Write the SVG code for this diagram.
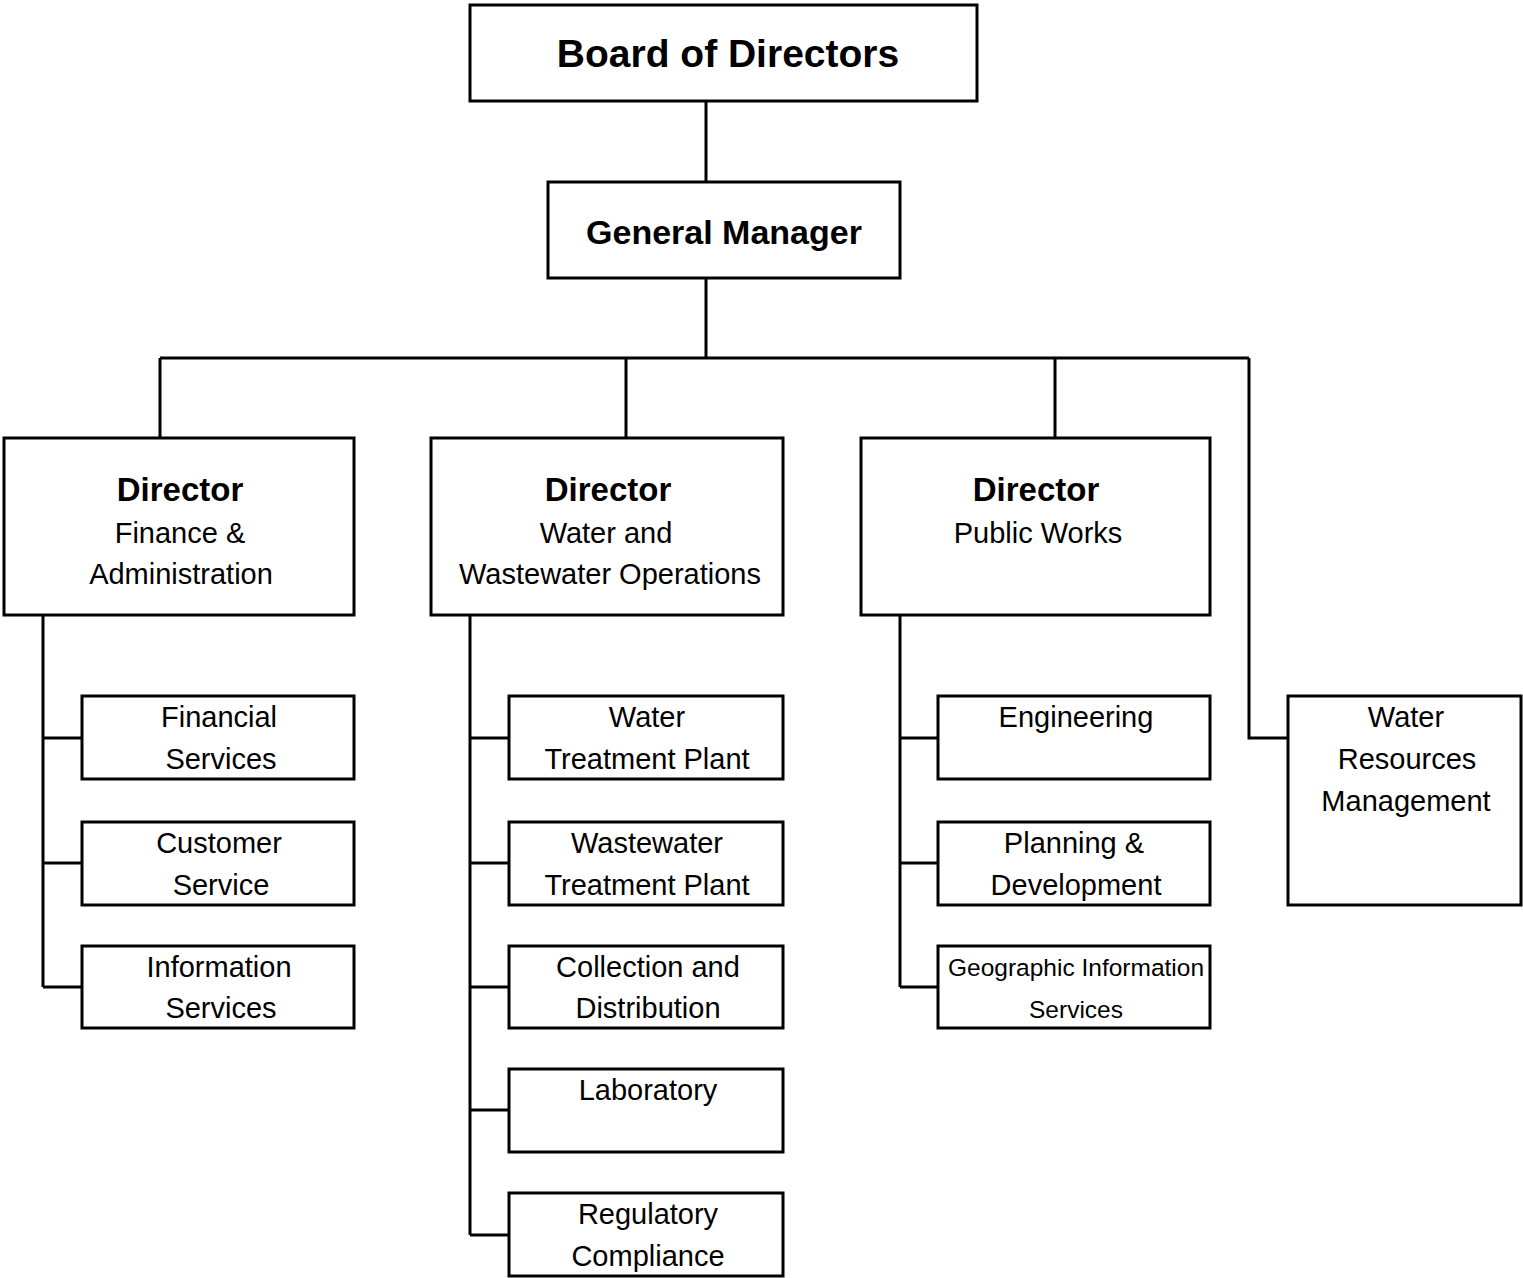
<svg xmlns="http://www.w3.org/2000/svg" width="1523" height="1278" viewBox="0 0 1523 1278">
<style>
.box{fill:#fff;stroke:#000;stroke-width:3}
.ln{fill:none;stroke:#000;stroke-width:3}
text{font-family:"Liberation Sans",Arial,sans-serif;fill:#000;text-anchor:middle}
.t1{font-size:39px;font-weight:bold}
.t2{font-size:34px;font-weight:bold}
.hd{font-size:33px;font-weight:bold}
.tx{font-size:29px}
.sm{font-size:24.5px}
</style>
<rect width="1523" height="1278" fill="#fff"/>
<g id="connectors">
<path class="ln" d="M706 101V182M706 278V358M160 358H1249M160 358V438M626 358V438M1055 358V438M1249 358V738H1288"/>
<path class="ln" d="M43 615V987M43 738H82M43 863H82M43 987H82"/>
<path class="ln" d="M470 615V1235M470 738H509M470 863H509M470 987H509M470 1110H509M470 1235H509"/>
<path class="ln" d="M900 615V987M900 738H938M900 863H938M900 987H938"/>
</g>
<g id="board"><rect class="box" x="470" y="5" width="507" height="96"/><text class="t1" x="728" y="67">Board of Directors</text></g>
<g id="gm"><rect class="box" x="548" y="182" width="352" height="96"/><text class="t2" x="724" y="244">General Manager</text></g>
<g id="dir-fin"><rect class="box" x="4" y="438" width="350" height="177"/><text class="hd" x="180" y="501">Director</text><text class="tx" x="180" y="543">Finance &amp;</text><text class="tx" x="181" y="584">Administration</text></g>
<g id="dir-water"><rect class="box" x="431" y="438" width="352" height="177"/><text class="hd" x="608" y="501">Director</text><text class="tx" x="606" y="543">Water and</text><text class="tx" x="610" y="584">Wastewater Operations</text></g>
<g id="dir-pw"><rect class="box" x="861" y="438" width="349" height="177"/><text class="hd" x="1036" y="501">Director</text><text class="tx" x="1038" y="543">Public Works</text></g>
<g id="fin-svc"><rect class="box" x="82" y="696" width="272" height="83"/><text class="tx" x="219" y="727">Financial</text><text class="tx" x="221" y="769">Services</text></g>
<g id="cust-svc"><rect class="box" x="82" y="822" width="272" height="83"/><text class="tx" x="219" y="853">Customer</text><text class="tx" x="221" y="895">Service</text></g>
<g id="info-svc"><rect class="box" x="82" y="946" width="272" height="82"/><text class="tx" x="219" y="977">Information</text><text class="tx" x="221" y="1018">Services</text></g>
<g id="wtp"><rect class="box" x="509" y="696" width="274" height="83"/><text class="tx" x="647" y="727">Water</text><text class="tx" x="647" y="769">Treatment Plant</text></g>
<g id="wwtp"><rect class="box" x="509" y="822" width="274" height="83"/><text class="tx" x="647" y="853">Wastewater</text><text class="tx" x="647" y="895">Treatment Plant</text></g>
<g id="coll"><rect class="box" x="509" y="946" width="274" height="82"/><text class="tx" x="648" y="977">Collection and</text><text class="tx" x="648" y="1018">Distribution</text></g>
<g id="lab"><rect class="box" x="509" y="1069" width="274" height="83"/><text class="tx" x="648" y="1100">Laboratory</text></g>
<g id="reg"><rect class="box" x="509" y="1193" width="274" height="83"/><text class="tx" x="648" y="1224">Regulatory</text><text class="tx" x="648" y="1266">Compliance</text></g>
<g id="eng"><rect class="box" x="938" y="696" width="272" height="83"/><text class="tx" x="1076" y="727">Engineering</text></g>
<g id="plan"><rect class="box" x="938" y="822" width="272" height="83"/><text class="tx" x="1074" y="853">Planning &amp;</text><text class="tx" x="1076" y="895">Development</text></g>
<g id="gis"><rect class="box" x="938" y="946" width="272" height="82"/><text class="sm" x="1076" y="976">Geographic Information</text><text class="sm" x="1076" y="1018">Services</text></g>
<g id="wrm"><rect class="box" x="1288" y="696" width="233" height="209"/><text class="tx" x="1406" y="727">Water</text><text class="tx" x="1407" y="769">Resources</text><text class="tx" x="1406" y="811">Management</text></g>
</svg>
